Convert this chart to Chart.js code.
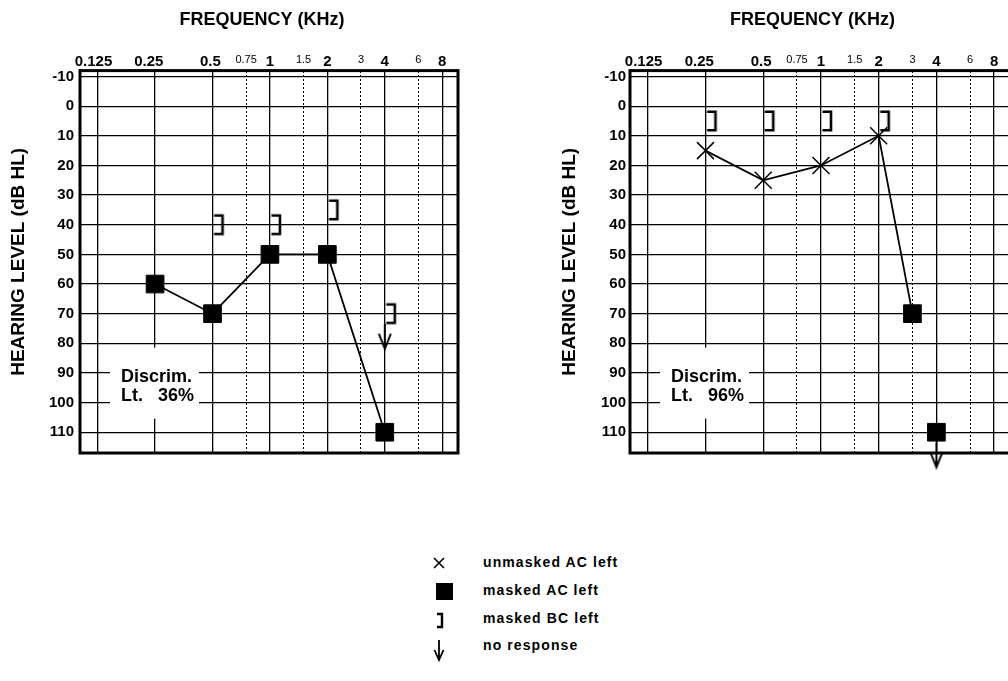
<!DOCTYPE html>
<html>
<head>
<meta charset="utf-8">
<script src="https://cdn.jsdelivr.net/npm/chart.js@4.4.1/dist/chart.umd.min.js"></script>
<style>
  html, body { margin: 0; padding: 0; background: #fff; overflow: hidden; width: 1008px; height: 681px; }
  body { position: relative; font-family: 'Liberation Sans', Arial, sans-serif; }
  #left { position: absolute; left: 0; top: 0; }
  #right { position: absolute; left: 540px; top: 0; }
  #keyIcons { position: absolute; left: 427px; top: 548px; }
  .key { position: absolute; left: 483px; font-weight: bold; font-size: 14px; letter-spacing: 1.1px; line-height: 16px; color: #000; white-space: nowrap; }
</style>
</head>
<body>
<canvas id="left" width="524" height="480"></canvas>
<canvas id="right" width="545" height="480"></canvas>
<canvas id="keyIcons" width="36" height="120"></canvas>
<div class="key" style="top:554px">unmasked AC left</div>
<div class="key" style="top:582px">masked AC left</div>
<div class="key" style="top:610px">masked BC left</div>
<div class="key" style="top:637px">no response</div>
<script>
const FONT = "'Liberation Sans', Arial, sans-serif";

// frequency axis (kHz); trailing spaces nudge the printed labels left like the form
const freqTicks = [0.125, 0.25, 0.5, 0.75, 1, 1.5, 2, 3, 4, 6, 8];
const freqLabels = ['0.125  ', '0.25   ', '0.5 ', '0.75', '1', '1.5', '2', '3', '4', '6', '8'];
const halfOctaves = [0.75, 1.5, 3, 6];
// hearing level axis (dB HL)
const levelTicks = [-10, 0, 10, 20, 30, 40, 50, 60, 70, 80, 90, 100, 110];

// left audiogram
const leftUnmaskedFreq = [];
const leftUnmaskedDb = [];
const leftMaskedFreq = [0.25, 0.5, 1, 2, 4];
const leftMaskedDb = [60, 70, 50, 50, 110];
const leftBcFreq = [0.5, 1, 2, 4];
const leftBcDb = [40, 40, 35, 70];
const leftNoRespFreq = [4];
const leftNoRespDb = [70];
const leftScore = '36%';

// right audiogram
const rightUnmaskedFreq = [0.25, 0.5, 1, 2];
const rightUnmaskedDb = [15, 25, 20, 10];
const rightMaskedFreq = [3, 4];
const rightMaskedDb = [70, 110];
const rightBcFreq = [0.25, 0.5, 1, 2];
const rightBcDb = [5, 5, 5, 5];
const rightNoRespFreq = [4];
const rightNoRespDb = [110];
const rightScore = '96%';

function drawBracket(ctx, l, r, t, b, lw) {
  ctx.beginPath();
  ctx.moveTo(l, t);
  ctx.lineTo(r, t);
  ctx.lineTo(r, b);
  ctx.lineTo(l, b);
  ctx.lineWidth = lw;
  ctx.lineJoin = 'miter';
  ctx.strokeStyle = '#000';
  ctx.stroke();
}

function drawArrow(ctx, x, y0, tip, hw, hh, lw) {
  ctx.beginPath();
  ctx.moveTo(x, y0);
  ctx.lineTo(x, tip);
  ctx.moveTo(x - hw, tip - hh);
  ctx.lineTo(x, tip);
  ctx.lineTo(x + hw, tip - hh);
  ctx.lineWidth = lw;
  ctx.strokeStyle = '#000';
  ctx.stroke();
}

// point images: bracket sits right of the frequency, arrow hangs below the point
const bracketImg = document.createElement('canvas');
bracketImg.width = 28; bracketImg.height = 28;
drawBracket(bracketImg.getContext('2d'), 15.5, 24, 4.8, 23.2, 2.6);

const arrowImg = document.createElement('canvas');
arrowImg.width = 20; arrowImg.height = 80;
drawArrow(arrowImg.getContext('2d'), 10, 50, 75, 6, 15, 2);

function pts(freqs, levels) {
  return freqs.map((f, i) => ({ x: f, y: levels[i] }));
}

function thresholdLine(ac, noResp) {
  return ac.filter(p => !noResp.some(n => n.x === p.x && n.y === p.y))
    .sort((a, b) => a.x - b.x);
}

const isHalf = c => c.tick && halfOctaves.includes(c.tick.value);

const audiogramFrame = {
  id: 'audiogramFrame',
  beforeDatasetsDraw(chart, args, opts) {
    const { ctx, chartArea: a } = chart;
    ctx.save();
    ctx.fillStyle = '#fff';
    ctx.fillRect(a.left + 30, a.top + 277, 89, 71);
    ctx.fillStyle = '#000';
    ctx.font = 'bold 18px ' + FONT;
    ctx.textBaseline = 'middle';
    ctx.fillText('Discrim.', a.left + 41, a.top + 306);
    ctx.fillText('Lt.', a.left + 41, a.top + 325);
    ctx.fillText(opts.score, a.left + 78, a.top + 325);
    ctx.lineWidth = 3;
    ctx.strokeStyle = '#000';
    ctx.strokeRect(a.left, a.top, a.right - a.left, a.bottom - a.top);
    ctx.restore();
  }
};

function audiogram(el, d, o) {
  const unmasked = pts(d.unmaskedFreq, d.unmaskedDb);
  const masked = pts(d.maskedFreq, d.maskedDb);
  const bc = pts(d.bcFreq, d.bcDb);
  const nr = pts(d.nrFreq, d.nrDb);
  return new Chart(el, {
    type: 'scatter',
    data: {
      datasets: [
        { type: 'line', data: thresholdLine(unmasked.concat(masked), nr), borderColor: '#000',
          borderWidth: 1.8, pointRadius: 0, order: 5 },
        { data: unmasked, pointStyle: 'crossRot', pointRadius: 12, borderColor: '#000',
          borderWidth: 1.5, order: 2 },
        { data: masked, pointStyle: 'rect', pointRadius: 12.5, backgroundColor: '#000',
          borderColor: '#000', borderWidth: 1, order: 1 },
        { data: bc, pointStyle: bracketImg, pointRadius: 5, order: 3, clip: false },
        { data: nr, pointStyle: arrowImg, pointRadius: 5, order: 4, clip: false }
      ]
    },
    options: {
      responsive: false,
      animation: false,
      layout: { padding: { bottom: 27 } },
      plugins: {
        legend: { display: false },
        tooltip: { enabled: false },
        title: {
          display: true, text: 'FREQUENCY (KHz)', color: '#000',
          font: { family: FONT, size: 18, weight: 'bold' }, padding: { top: 9, bottom: 0 }
        },
        audiogramFrame: { score: o.score }
      },
      scales: {
        x: {
          type: 'logarithmic', position: 'top', min: 0.101, max: 9.68,
          afterBuildTicks: s => { s.ticks = freqTicks.map(v => ({ value: v })); },
          afterFit: s => { s.height = 40; },
          grid: { color: '#000', lineWidth: c => isHalf(c) ? 1 : 1.3, drawTicks: false },
          border: { display: false, dash: c => isHalf(c) ? [2, 2] : [] },
          ticks: {
            autoSkip: false, maxRotation: 0, padding: 0, color: '#000',
            callback: v => freqLabels[freqTicks.indexOf(v)],
            font: c => isHalf(c)
              ? { family: FONT, size: 11, lineHeight: 1.9 }
              : { family: FONT, size: 15, weight: 'bold' }
          }
        },
        y: {
          type: 'linear', reverse: true, min: -12, max: 117,
          afterBuildTicks: s => { s.ticks = levelTicks.map(v => ({ value: v })); },
          afterFit: s => { s.width = o.axisWidth; },
          grid: { color: '#000', lineWidth: 1.3, drawTicks: false },
          border: { display: false },
          ticks: { padding: o.tickPad, color: '#000', font: { family: FONT, size: 15, weight: 'bold' } },
          title: {
            display: true, text: 'HEARING LEVEL (dB HL)', color: '#000',
            font: { family: FONT, size: 19, weight: 'bold' }, padding: { top: o.titlePad, bottom: 0 }
          }
        },
        spare: {
          type: 'linear', position: 'right', display: true,
          grid: { display: false }, border: { display: false }, ticks: { display: false },
          afterFit: s => { s.width = o.rightGap; }
        }
      }
    },
    plugins: [audiogramFrame]
  });
}

audiogram(document.getElementById('left'), {
  unmaskedFreq: leftUnmaskedFreq, unmaskedDb: leftUnmaskedDb,
  maskedFreq: leftMaskedFreq, maskedDb: leftMaskedDb,
  bcFreq: leftBcFreq, bcDb: leftBcDb,
  nrFreq: leftNoRespFreq, nrDb: leftNoRespDb
}, { score: leftScore, axisWidth: 80, rightGap: 66, titlePad: 7.6, tickPad: 6 });

audiogram(document.getElementById('right'), {
  unmaskedFreq: rightUnmaskedFreq, unmaskedDb: rightUnmaskedDb,
  maskedFreq: rightMaskedFreq, maskedDb: rightMaskedDb,
  bcFreq: rightBcFreq, bcDb: rightBcDb,
  nrFreq: rightNoRespFreq, nrDb: rightNoRespDb
}, { score: rightScore, axisWidth: 90, rightGap: 75, titlePad: 18.6, tickPad: 4 });

// key symbols
const k = document.getElementById('keyIcons').getContext('2d');
k.strokeStyle = '#000';
k.lineWidth = 1.6;
k.beginPath();
k.moveTo(7, 10); k.lineTo(17, 20);
k.moveTo(17, 10); k.lineTo(7, 20);
k.stroke();
k.fillStyle = '#000';
k.fillRect(9, 35, 17, 17);
drawBracket(k, 10, 15, 66, 79, 2.4);
drawArrow(k, 12, 92, 112, 4.5, 10, 1.8);
</script>
</body>
</html>
